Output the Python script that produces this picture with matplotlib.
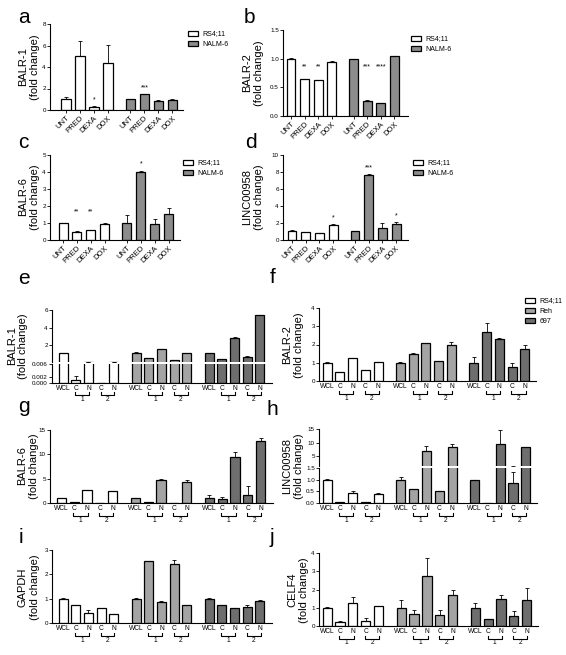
import matplotlib
matplotlib.use("Agg")
import matplotlib.pyplot as plt
import matplotlib.transforms as mtransforms
from matplotlib.patches import Rectangle

plt.rcParams["font.family"] = ["Liberation Sans", "DejaVu Sans"]

W, H = 566, 655

# ---------------- data ----------------
treatments = ["UNT", "PRED", "DEXA", "DOX"]
fractions = ["WCL", "C", "N", "C", "N"]
cell_lines_ad = ["RS4;11", "NALM-6"]
cell_lines_ej = ["RS4;11", "Reh", "697"]

# a: BALR-1
a_rs = [1.0, 5.0, 0.3, 4.35]
a_rs_err = [0.2, 1.4, 0.05, 1.7]
a_nalm = [1.0, 1.45, 0.87, 0.97]
a_nalm_err = [0.03, 0.03, 0.02, 0.05]
a_stars = ["", "", "*", "", "", "***", "", ""]

# b: BALR-2
b_rs = [1.0, 0.64, 0.62, 0.95]
b_rs_err = [0.02, 0.01, 0.01, 0.01]
b_nalm = [0.99, 0.27, 0.23, 1.05]
b_nalm_err = [0.0, 0.01, 0.0, 0.0]
b_stars = ["", "**", "**", "", "", "***", "****", ""]

# c: BALR-6
c_rs = [1.0, 0.48, 0.58, 0.96]
c_rs_err = [0.02, 0.02, 0.02, 0.02]
c_nalm = [1.0, 4.0, 0.97, 1.5]
c_nalm_err = [0.45, 0.08, 0.28, 0.37]
c_stars = ["", "**", "**", "", "", "*", "", ""]

# d: LINC00958
d_rs = [1.1, 0.94, 0.78, 1.76]
d_rs_err = [0.05, 0.03, 0.03, 0.08]
d_nalm = [1.06, 7.6, 1.45, 1.84]
d_nalm_err = [0.02, 0.15, 0.5, 0.24]
d_stars = ["", "", "", "*", "", "***", "", "*"]

# e: BALR-1 (fractions)
e_rs = [1.1, 0.0009, 0.05, 0.00005, 0.05]
e_rs_err = [0.0, 0.0012, 0.0, 0.0, 0.0]
e_reh = [1.15, 0.5, 1.6, 0.35, 1.1]
e_reh_err = [0.05, 0.03, 0.02, 0.02, 0.05]
e_697 = [1.1, 0.4, 2.85, 0.65, 5.45]
e_697_err = [0.02, 0.02, 0.08, 0.08, 0.02]

# f: BALR-2
f_rs = [1.0, 0.48, 1.24, 0.6, 1.02]
f_rs_err = [0.02, 0.01, 0.02, 0.01, 0.02]
f_reh = [1.0, 1.47, 2.06, 1.09, 1.97]
f_reh_err = [0.02, 0.04, 0.02, 0.02, 0.15]
f_697 = [1.0, 2.7, 2.3, 0.78, 1.75]
f_697_err = [0.33, 0.5, 0.07, 0.18, 0.25]

# g: BALR-6
g_rs = [1.0, 0.12, 2.7, 0.05, 2.5]
g_rs_err = [0.0, 0.0, 0.0, 0.0, 0.0]
g_reh = [1.0, 0.2, 4.77, 0.1, 4.3]
g_reh_err = [0.1, 0.03, 0.1, 0.0, 0.35]
g_697 = [1.0, 0.9, 9.5, 1.55, 12.7]
g_697_err = [0.7, 0.35, 1.0, 2.0, 0.7]

# h: LINC00958
h_rs = [1.0, 0.03, 0.45, 0.03, 0.38]
h_rs_err = [0.03, 0.0, 0.07, 0.01, 0.04]
h_reh = [1.0, 0.58, 7.1, 0.52, 8.3]
h_reh_err = [0.12, 0.02, 1.8, 0.01, 1.4]
h_697 = [1.0, 0.01, 9.7, 0.86, 8.5]
h_697_err = [0.0, 0.0, 5.0, 0.48, 0.1]

# i: GAPDH
i_rs = [1.0, 0.72, 0.41, 0.61, 0.38]
i_rs_err = [0.01, 0.0, 0.13, 0.02, 0.01]
i_reh = [1.0, 2.55, 0.88, 2.42, 0.73]
i_reh_err = [0.03, 0.01, 0.02, 0.18, 0.01]
i_697 = [1.0, 0.73, 0.6, 0.66, 0.92]
i_697_err = [0.01, 0.0, 0.0, 0.08, 0.02]

# j: CELF4
j_rs = [1.0, 0.24, 1.27, 0.26, 1.09]
j_rs_err = [0.06, 0.02, 0.3, 0.16, 0.03]
j_reh = [1.0, 0.64, 2.73, 0.6, 1.7]
j_reh_err = [0.42, 0.23, 0.97, 0.27, 0.27]
j_697 = [1.0, 0.36, 1.47, 0.55, 1.42]
j_697_err = [0.24, 0.0, 0.23, 0.27, 0.68]

WHITE, NALM, REH, C697 = "white", "#8c8c8c", "#a4a4a4", "#6e6e6e"

fig = plt.figure(figsize=(W / 100, H / 100), dpi=100)


def add_ax(left, top, right, bottom):
    return fig.add_axes([left / W, 1 - bottom / H, (right - left) / W, (bottom - top) / H])


def px(ax, dy):
    """vertical pixel offset expressed as axes fraction"""
    return dy / (ax.get_position().height * H)


def style(ax, ylim, yticks, yticklabels=None, xlim=None):
    for s in ("top", "right"):
        ax.spines[s].set_visible(False)
    for s in ("left", "bottom"):
        ax.spines[s].set_linewidth(0.8)
    ax.set_ylim(*ylim)
    ax.set_yticks(yticks)
    if yticklabels is not None:
        ax.set_yticklabels(yticklabels)
    if xlim is not None:
        ax.set_xlim(*xlim)
    ax.tick_params(axis="y", length=2, width=0.6, labelsize=4.5, pad=1)
    ax.patch.set_visible(False)


def bars(ax, x, vals, errs, color, width):
    ax.bar(x, vals, width=width, color=color, edgecolor="black", linewidth=0.9, zorder=2)
    ax.errorbar(x, vals, yerr=[[0] * len(vals), errs], fmt="none", ecolor="black",
                elinewidth=0.6, capsize=1.6, capthick=0.6, zorder=1)


def stars(ax, x, tops, marks, level=None, level_idx=()):
    off = mtransforms.ScaledTranslation(0, 3 / 100, fig.dpi_scale_trans)
    for i, (xi, t, m) in enumerate(zip(x, tops, marks)):
        if not m:
            continue
        y = level if (level is not None and i in level_idx) else t
        ax.text(xi, y, m, ha="center", va="bottom", fontsize=5, transform=ax.transData + off)


def legend(labels, colors, x, y):
    handles = [Rectangle((0, 0), 1, 1, facecolor=c, edgecolor="black", linewidth=0.9) for c in colors]
    fig.legend(handles, labels, loc="upper left", bbox_to_anchor=(x / W, 1 - y / H),
               frameon=False, fontsize=5, borderpad=0, handlelength=1.4, handleheight=0.75,
               labelspacing=0.45, handletextpad=0.6)


def ylabel(name, x1, x2, yc):
    fig.text(x1 / W, 1 - yc / H, name, rotation=90, ha="center", va="center", fontsize=8)
    fig.text(x2 / W, 1 - yc / H, "(fold change)", rotation=90, ha="center", va="center", fontsize=8)


def letter(s, x, y):
    fig.text(x / W, 1 - y / H, s, fontsize=15, ha="left", va="baseline")


# ---------- panels a-d ----------
pos_ad = [0, 1, 2, 3, 4.6, 5.6, 6.6, 7.6]


def treat_panel(box, xlim, ylim, yticks, rs, rs_err, nalm, nalm_err, marks,
                yticklabels=None, level=None, level_idx=()):
    ax = add_ax(*box)
    style(ax, ylim, yticks, yticklabels, xlim)
    bars(ax, pos_ad[:4], rs, rs_err, WHITE, 0.65)
    bars(ax, pos_ad[4:], nalm, nalm_err, NALM, 0.65)
    tops = [v + e for v, e in zip(rs + nalm, rs_err + nalm_err)]
    stars(ax, pos_ad, tops, marks, level, level_idx)
    ax.set_xticks(pos_ad)
    ax.set_xticklabels(treatments * 2, rotation=45, ha="right", rotation_mode="anchor", fontsize=5.5)
    ax.tick_params(axis="x", length=2.5, width=0.6, pad=1)
    return ax


treat_panel((50, 24, 183, 110), (-1.14, 8.36), (0, 8), [0, 2, 4, 6, 8],
            a_rs, a_rs_err, a_nalm, a_nalm_err, a_stars)
treat_panel((283, 30, 408, 116), (-0.59, 8.6), (0, 1.5), [0, 0.5, 1.0, 1.5],
            b_rs, b_rs_err, b_nalm, b_nalm_err, b_stars,
            yticklabels=["0.0", "0.5", "1.0", "1.5"], level=0.75, level_idx=(1, 2, 5, 6))
treat_panel((50, 155, 180, 240), (-0.94, 8.42), (0, 5), [0, 1, 2, 3, 4, 5],
            c_rs, c_rs_err, c_nalm, c_nalm_err, c_stars, level=1.3, level_idx=(1, 2))
treat_panel((283, 155, 408, 240), (-0.66, 8.47), (0, 10), [0, 2, 4, 6, 8, 10],
            d_rs, d_rs_err, d_nalm, d_nalm_err, d_stars)

legend(cell_lines_ad, [WHITE, NALM], 185, 27)
legend(cell_lines_ad, [WHITE, NALM], 408, 32)
legend(cell_lines_ad, [WHITE, NALM], 180, 156)
legend(cell_lines_ad, [WHITE, NALM], 410, 156)

ylabel("BALR-1", 23, 35, 67)
ylabel("BALR-2", 247, 259, 73)
ylabel("BALR-6", 23, 35, 197)
ylabel("LINC00958", 247, 259, 197)

# ---------- panels e-j ----------
group_off = [0, 5.75, 11.5]
pos_ej = [g + k for g in group_off for k in range(5)]
XL_LEFT = (-0.87, 16.45)
XL_RIGHT = (-0.63, 16.37)


def frac_bars(ax, rs, rs_err, reh, reh_err, c697, c697_err):
    bars(ax, pos_ej[0:5], rs, rs_err, WHITE, 0.71)
    bars(ax, pos_ej[5:10], reh, reh_err, REH, 0.71)
    bars(ax, pos_ej[10:15], c697, c697_err, C697, 0.71)
    ax.set_xticks([])


def frac_labels(ax):
    tr = mtransforms.blended_transform_factory(ax.transData, ax.transAxes)
    for x, lab in zip(pos_ej, fractions * 3):
        ax.text(x, -px(ax, 2), lab, transform=tr, ha="center", va="top", fontsize=4.8, clip_on=False)
    for g in group_off:
        for k, num in ((1, "1"), (3, "2")):
            x0, x1 = g + k - 0.05, g + k + 1.05
            ax.plot([x0, x0, x1, x1], [-px(ax, 9.5), -px(ax, 12.5), -px(ax, 12.5), -px(ax, 9.5)],
                    transform=tr, color="black", lw=0.8, clip_on=False)
            ax.text((x0 + x1) / 2, -px(ax, 13.5), num, transform=tr, ha="center", va="top",
                    fontsize=4.8, clip_on=False)


def simple_panel(box, xlim, ylim, yticks, data):
    ax = add_ax(*box)
    style(ax, ylim, yticks, xlim=xlim)
    frac_bars(ax, *data)
    frac_labels(ax)
    return ax


def broken_panel(box_up, box_low, xlim, ylim_up, ticks_up, ylim_low, ticks_low, labels_low, data):
    up = add_ax(*box_up)
    low = add_ax(*box_low)
    style(up, ylim_up, ticks_up, xlim=xlim)
    style(low, ylim_low, ticks_low, labels_low, xlim=xlim)
    up.spines["bottom"].set_visible(False)
    frac_bars(up, *data)
    frac_bars(low, *data)
    frac_labels(low)


# e (broken axis)
broken_panel((52, 310, 272, 362), (52, 364, 272, 383), XL_LEFT, (0.1, 6), [2, 4, 6],
             (0, 0.006), [0, 0.002, 0.006], ["0.000", "0.002", "0.006"],
             (e_rs, e_rs_err, e_reh, e_reh_err, e_697, e_697_err))
# f
simple_panel((319, 308, 536, 381), XL_RIGHT, (0, 4), [0, 1, 2, 3, 4],
             (f_rs, f_rs_err, f_reh, f_reh_err, f_697, f_697_err))
legend(cell_lines_ej, [WHITE, REH, C697], 522, 294)
# g
simple_panel((50, 430, 273, 503), XL_LEFT, (0, 15), [0, 5, 10, 15],
             (g_rs, g_rs_err, g_reh, g_reh_err, g_697, g_697_err))
# h (broken axis)
broken_panel((319, 429, 537, 466), (319, 468, 537, 503), XL_RIGHT, (1.5, 15), [5, 10, 15],
             (0, 1.5), [0, 0.5, 1.0, 1.5], ["0.0", "0.5", "1.0", "1.5"],
             (h_rs, h_rs_err, h_reh, h_reh_err, h_697, h_697_err))
# i
simple_panel((52, 550, 272, 623), XL_LEFT, (0, 3), [0, 1, 2, 3],
             (i_rs, i_rs_err, i_reh, i_reh_err, i_697, i_697_err))
# j
simple_panel((319, 553, 538, 626), XL_RIGHT, (0, 4), [0, 1, 2, 3, 4],
             (j_rs, j_rs_err, j_reh, j_reh_err, j_697, j_697_err))

ylabel("BALR-1", 12, 23, 346)
ylabel("BALR-2", 287, 299, 345)
ylabel("BALR-6", 22, 34, 466)
ylabel("LINC00958", 287, 299, 466)
ylabel("GAPDH", 23, 35, 587)
ylabel("CELF4", 292, 304, 590)

for s, x, y in [("a", 18, 23), ("b", 244, 23), ("c", 18, 148), ("d", 245, 148),
                ("e", 18, 284), ("f", 270, 283), ("g", 18, 412), ("h", 267, 415),
                ("i", 19, 543), ("j", 270, 543)]:
    letter(s, x, y)

fig.savefig("out.png", dpi=100)
